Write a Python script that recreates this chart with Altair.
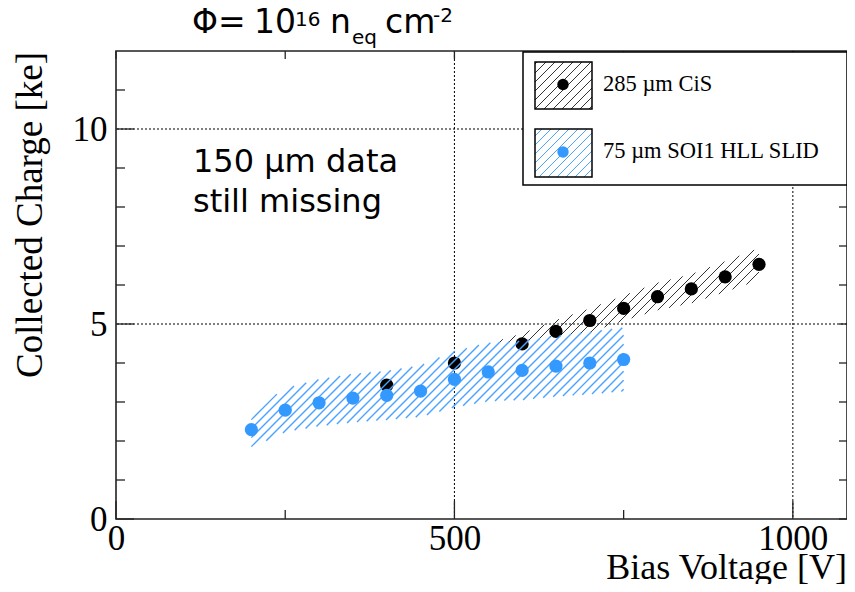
import altair as alt
import numpy as np
import pandas as pd

# ---------------- data ----------------
cis_v = [400, 500, 600, 650, 700, 750, 800, 850, 900, 950]
cis_q = [3.43, 4.00, 4.49, 4.81, 5.09, 5.40, 5.70, 5.90, 6.21, 6.53]
cis_lo = [3.22, 3.76, 4.22, 4.52, 4.78, 5.08, 5.35, 5.53, 5.82, 6.12]
cis_hi = [3.64, 4.24, 4.76, 5.10, 5.40, 5.73, 6.06, 6.28, 6.61, 6.95]

soi_v = [200, 250, 300, 350, 400, 450, 500, 550, 600, 650, 700, 750]
soi_q = [2.29, 2.79, 2.98, 3.10, 3.17, 3.28, 3.58, 3.77, 3.81, 3.92, 4.00, 4.09]
soi_lo = [1.83, 2.23, 2.38, 2.48, 2.54, 2.62, 2.86, 3.02, 3.05, 3.14, 3.20, 3.27]
soi_hi = [2.75, 3.35, 3.58, 3.72, 3.80, 3.94, 4.30, 4.52, 4.57, 4.70, 4.80, 4.91]

x_major = [0, 500, 1000]
x_minor = [250, 750]
y_major = [0, 5, 10]
y_minor = [1, 2, 3, 4, 6, 7, 8, 9, 11]
grid_x = [500, 1000]
grid_y = [5, 10]

legend_labels = ["285 \u00b5m CiS", "75 \u00b5m SOI1 HLL SLID"]

# ---------------- layout ----------------
X_MAX, Y_MAX = 1080, 12
W, H = 731, 468
kx, ky = W / X_MAX, H / Y_MAX
HATCH = 9.0

BLUE = "#3399ff"
BLUE_H = "#4aa3ff"
SERIF = "Liberation Serif"
SANS = "DejaVu Sans"

xscale = alt.Scale(domain=[0, X_MAX], nice=False, zero=False)
yscale = alt.Scale(domain=[0, Y_MAX], nice=False, zero=False)
xaxis = alt.Axis(values=x_major, format="d", ticks=False, domain=False, grid=False, title=None,
                 labelFont=SERIF, labelFontSize=35, labelColor="black", labelPadding=2,
                 labelFlush=False, labelOverlap=False, labelBound=False)
yaxis = alt.Axis(values=y_major, format="d", ticks=False, domain=False, grid=False, title=None,
                 labelFont=SERIF, labelFontSize=35, labelColor="black", labelPadding=9,
                 labelFlush=False, labelOverlap=False, labelBound=False)


def X(f):
    return alt.X(f, type="quantitative", scale=xscale, axis=xaxis)


def Y(f):
    return alt.Y(f, type="quantitative", scale=yscale, axis=yaxis)


def hatch_px(xs, lo, hi, step=HATCH, n=4000):
    """45-degree hatch segments inside a band, pixel space with y pointing up."""
    xs = np.asarray(xs, float)
    g = np.linspace(xs[0], xs[-1], n)
    lo_g = np.interp(g, xs, np.asarray(lo, float))
    hi_g = np.interp(g, xs, np.asarray(hi, float))
    cmin = (lo_g - g).min()
    cmax = (hi_g - g).max()
    segs = []
    for c in np.arange(np.floor(cmin / step) * step, cmax + step, step):
        yy = g + c
        idx = np.where((yy >= lo_g) & (yy <= hi_g))[0]
        if len(idx) < 2:
            continue
        a, b = g[idx[0]], g[idx[-1]]
        segs.append((a, a + c, b, b + c))
    return segs


def band_hatch(v, lo, hi):
    segs = hatch_px(np.asarray(v) * kx, np.asarray(lo) * ky, np.asarray(hi) * ky)
    return pd.DataFrame([(a / kx, ya / ky, b / kx, yb / ky) for a, ya, b, yb in segs],
                        columns=["x", "y", "x2", "y2"])


def box_hatch(x0, x1, top, bottom):
    # box in pixels relative to plot origin (y down) -> data units
    segs = hatch_px([x0, x1], [H - bottom] * 2, [H - top] * 2)
    return pd.DataFrame([(a / kx, ya / ky, b / kx, yb / ky) for a, ya, b, yb in segs],
                        columns=["x", "y", "x2", "y2"])


dummy = pd.DataFrame({"d": [0]})


def txt(s, x, y, size, font, align="left", baseline="alphabetic", angle=0):
    return alt.Chart(dummy).mark_text(text=s, align=align, baseline=baseline, font=font,
                                      fontSize=size, angle=angle, color="black").encode(
        x=alt.value(x), y=alt.value(y))


layers = []

# grid
layers.append(alt.Chart(pd.DataFrame({"v": grid_x})).mark_rule(
    color="black", strokeWidth=1, strokeDash=[2, 2]).encode(x=X("v")))
layers.append(alt.Chart(pd.DataFrame({"v": grid_y})).mark_rule(
    color="black", strokeWidth=1, strokeDash=[2, 2]).encode(y=Y("v")))

# inner ticks
tk = dict(color="#222", strokeWidth=1.3)
layers.append(alt.Chart(pd.DataFrame({"v": y_major})).mark_rule(**tk).encode(
    y=Y("v"), x=alt.value(0), x2=alt.value(18)))
layers.append(alt.Chart(pd.DataFrame({"v": y_minor})).mark_rule(**tk).encode(
    y=Y("v"), x=alt.value(0), x2=alt.value(9)))
layers.append(alt.Chart(pd.DataFrame({"v": y_major + y_minor})).mark_rule(**tk).encode(
    y=Y("v"), x=alt.value(W), x2=alt.value(W - 8)))
layers.append(alt.Chart(pd.DataFrame({"v": x_major})).mark_rule(**tk).encode(
    x=X("v"), y=alt.value(H), y2=alt.value(H - 18)))
layers.append(alt.Chart(pd.DataFrame({"v": x_minor})).mark_rule(**tk).encode(
    x=X("v"), y=alt.value(H), y2=alt.value(H - 9)))
layers.append(alt.Chart(pd.DataFrame({"v": x_major + x_minor})).mark_rule(**tk).encode(
    x=X("v"), y=alt.value(0), y2=alt.value(8)))

# CiS band + points
layers.append(alt.Chart(band_hatch(cis_v, cis_lo, cis_hi)).mark_rule(
    color="#333", strokeWidth=1).encode(x=X("x"), y=Y("y"), x2="x2", y2="y2"))
layers.append(alt.Chart(pd.DataFrame({"v": cis_v, "q": cis_q})).mark_circle(
    size=175, color="black", opacity=1).encode(x=X("v"), y=Y("q")))

# SOI band + points
layers.append(alt.Chart(band_hatch(soi_v, soi_lo, soi_hi)).mark_rule(
    color=BLUE_H, strokeWidth=1.4).encode(x=X("x"), y=Y("y"), x2="x2", y2="y2"))
layers.append(alt.Chart(pd.DataFrame({"v": soi_v, "q": soi_q})).mark_circle(
    size=175, color=BLUE, opacity=1).encode(x=X("v"), y=Y("q")))

# legend
layers.append(alt.Chart(dummy).mark_rect(fill="white", stroke="black", strokeWidth=1.5).encode(
    x=alt.value(407), x2=alt.value(W), y=alt.value(1), y2=alt.value(134)))
boxes = [(11, 58, "#333", "black"), (78, 126, BLUE_H, BLUE)]
for (top, bot, hc, dc), lab in zip(boxes, legend_labels):
    layers.append(alt.Chart(box_hatch(419, 476, top, bot)).mark_rule(
        color=hc, strokeWidth=1).encode(x=X("x"), y=Y("y"), x2="x2", y2="y2"))
    layers.append(alt.Chart(dummy).mark_rect(fill=None, stroke="black", strokeWidth=1.5).encode(
        x=alt.value(419), x2=alt.value(476), y=alt.value(top), y2=alt.value(bot)))
    layers.append(alt.Chart(dummy).mark_circle(size=130, color=dc, opacity=1).encode(
        x=alt.value(447), y=alt.value((top + bot) / 2 - 1)))
    layers.append(txt(lab, 487, (top + bot) / 2 - 2, 22.5, SERIF, baseline="middle"))

# axis titles
layers.append(txt("Bias Voltage [V]", W, 528, 36, SERIF, align="right"))
layers.append(txt("Collected Charge [ke]", -74, 1, 37, SERIF, align="right", angle=270))

# header with super/subscripts
layers.append(txt("\u03a6=", 76, -18, 33, SANS))
layers.append(txt("10", 138, -18, 33, SANS))
layers.append(txt("16", 179, -25, 20, SANS))
layers.append(txt("n", 214, -18, 33, SANS))
layers.append(txt("eq", 236, -7, 20, SANS))
layers.append(txt("cm", 269, -18, 33, SANS))
layers.append(txt("-2", 317, -29, 20, SANS))

# annotation
layers.append(txt("150 \u00b5m data", 77, 121, 32, SANS))
layers.append(txt("still missing", 77, 161, 32, SANS))

chart = alt.layer(*layers).properties(
    width=W, height=H,
    autosize=alt.AutoSizeParams(type="none"),
    padding={"left": 108, "top": 43, "right": 0, "bottom": 65},
    background="white",
).configure_view(stroke="#222", strokeWidth=1.6)

chart.save("out.html", embed_options={"renderer": "svg", "actions": False})
